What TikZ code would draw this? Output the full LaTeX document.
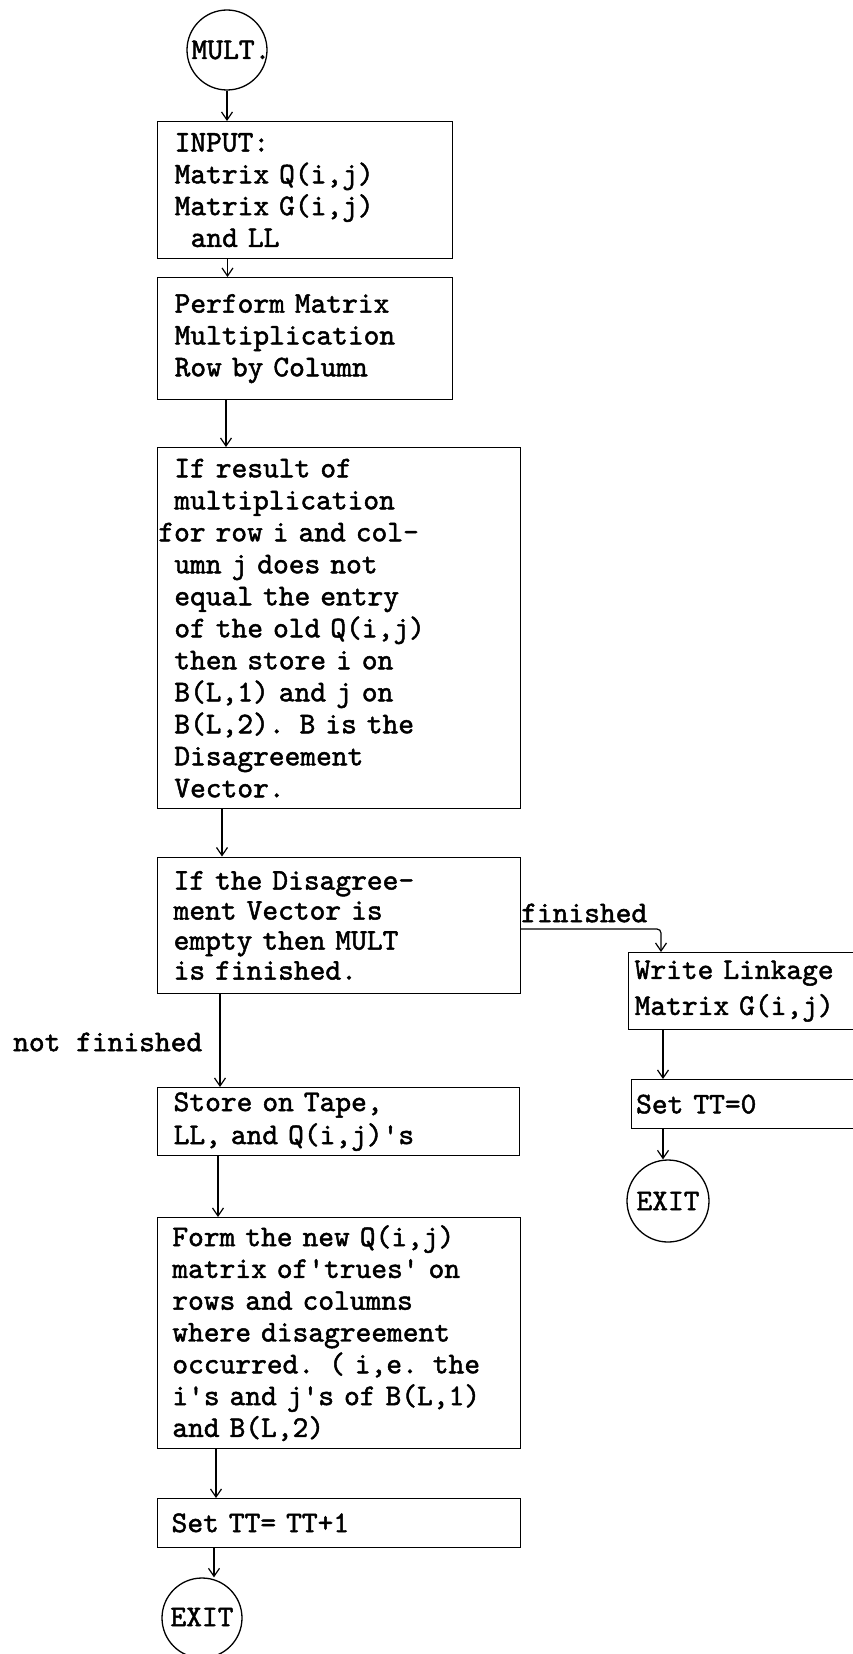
\documentclass[tikz,border=0pt]{standalone}
\usepackage{fontspec}
\usetikzlibrary{arrows.meta}
\newfontfamily\typew{lmmono10-regular.otf}[FakeBold=1.6]
\newcommand\flowfont{\typew\fontsize{30}{31.8}\selectfont}
\newcommand\q{\textquotesingle}
\begin{document}
\begin{tikzpicture}[x=1pt,y=-1pt,
  every node/.style={font=\flowfont},
  box/.style={draw, line width=1.3pt, anchor=north west, inner ysep=0pt, align=left},
  term/.style={draw, circle, line width=1.3pt, inner sep=0pt},
  lbl/.style={inner sep=0pt, anchor=west},
  arr/.style={line width=1.2pt, -{Straight Barb[length=8pt,width=11pt]}}]
\useasboundingbox (0,0) rectangle (852,1654);

% terminals
\node[term, minimum size=80pt] (mult) at (227,50) {};
\node[inner sep=0pt] (multt) at (231,50) {MULT.};
\node[term, minimum size=82pt] (exit1) at (668,1201) {};
\node[inner sep=0pt] (exit1t) at (668,1201) {EXIT};
\node[term, minimum size=80pt] (exit2) at (202,1618) {};
\node[inner sep=0pt] (exit2t) at (202,1617) {EXIT};

% boxes
\node[box, inner xsep=17pt, text width=260.5pt, minimum height=137pt] (b1) at (157,121)
  {INPUT:\\Matrix Q(i,j)\\Matrix G(i,j)\\\hspace*{16pt}and LL};
\node[box, inner xsep=17pt, text width=261pt, minimum height=122pt] (b2) at (157,277)
  {Perform Matrix\\Multiplication\\Row by Column};
\node[box, inner xsep=17pt, text width=329.3pt, minimum height=361pt, font=\typew\fontsize{30}{32}\selectfont] (b3) at (156.7,447)
  {If result of\\multiplication\\\hspace*{-16pt}for row i and col-\\umn j does not\\equal the entry\\of the old Q(i,j)\\then store i on\\B(L,1) and j on\\B(L,2). B is the\\Disagreement\\Vector.};
\node[box, inner xsep=16pt, text width=330.5pt, minimum height=136.5pt, font=\typew\fontsize{30}{30}\selectfont] (b4) at (157,856.5)
  {If the Disagree-\\ment Vector is\\empty then MULT\\is finished.};
\node[box, inner xsep=16pt, text width=330pt, minimum height=68pt, font=\typew\fontsize{30}{33}\selectfont] (b5) at (157,1087)
  {Store on Tape,\\LL, and Q(i,j)\q s};
\node[box, inner xsep=15pt, text width=333.3pt, minimum height=231pt] (b6) at (156.7,1217)
  {Form the new Q(i,j)\\matrix of\q trues\q{} on\\rows and columns\\where disagreement\\occurred. ( i,e. the\\i\q s and j\q s of B(L,1)\\and B(L,2)};
\node[box, inner xsep=14pt, text width=335pt, minimum height=48.5pt] (b7) at (157,1498)
  {Set TT= TT+1};
\node[box, inner xsep=6pt, text width=220pt, minimum height=77pt, font=\typew\fontsize{30}{36}\selectfont] (write) at (628,952)
  {Write Linkage\\Matrix G(i,j)};
\node[box, inner xsep=5pt, text width=219.5pt, minimum height=49pt] (set) at (630.5,1079)
  {Set TT=0};

% labels
\node[lbl] (finl) at (521,913) {finished};
\node[lbl] (nfl) at (13,1042) {not finished};

% connector x positions
\coordinate (xa) at (227.5,0);
\coordinate (xc) at (226,0);
\coordinate (xd) at (222,0);
\coordinate (xe) at (220,0);
\coordinate (xf) at (218,0);
\coordinate (xg) at (216,0);
\coordinate (xh) at (214,0);
\coordinate (fin) at (661,929);
\coordinate (xr) at (663,0);

% connectors
\draw[arr] (mult.south) -- (b1.north -| mult.south);
\draw[arr] (b1.south -| xa) -- (b2.north -| xa);
\draw[arr] (b2.south -| xc) -- (b3.north -| xc);
\draw[arr] (b3.south -| xd) -- (b4.north -| xd);
\draw[arr] (b4.south -| xe) -- (b5.north -| xe);
\draw[arr] (b5.south -| xf) -- (b6.north -| xf);
\draw[arr] (b6.south -| xg) -- (b7.north -| xg);
\draw[arr] (b7.south -| xh) -- (exit2.north -| xh);
\draw[arr, rounded corners=4pt] (b4.east |- fin) -| (write.north -| fin);
\draw[arr] (write.south -| xr) -- (set.north -| xr);
\draw[arr] (set.south -| xr) -- (exit1.north -| xr);
\end{tikzpicture}
\end{document}
